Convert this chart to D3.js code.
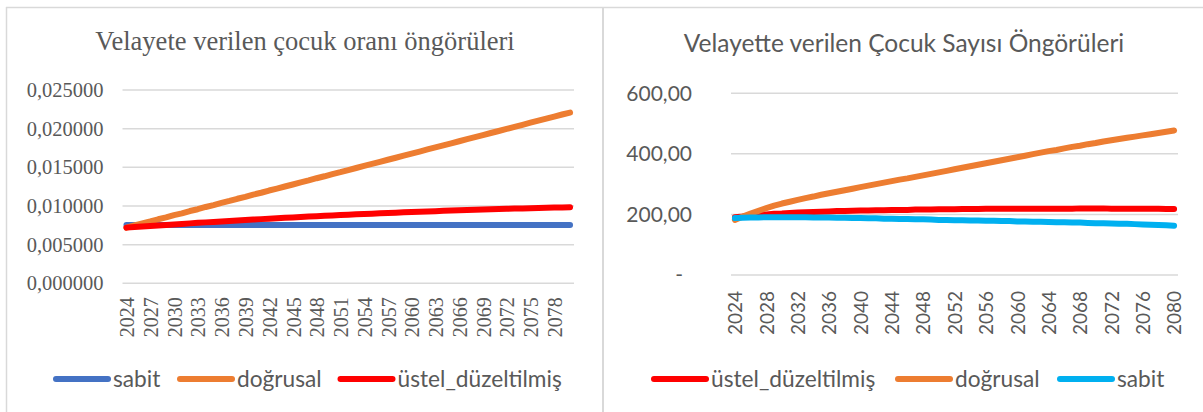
<!DOCTYPE html>
<html>
<head>
<meta charset="utf-8">
<script src="https://cdn.jsdelivr.net/npm/d3@7"></script>
<style>
  body { margin: 0; background: #fff; }
  svg { display: block; }
</style>
</head>
<body>
<svg id="chart" width="1203" height="412"></svg>
<script>
// years on both charts
var years = [2024,2025,2026,2027,2028,2029,2030,2031,2032,2033,2034,2035,2036,2037,2038,2039,2040,
  2041,2042,2043,2044,2045,2046,2047,2048,2049,2050,2051,2052,2053,2054,2055,2056,2057,2058,2059,2060,
  2061,2062,2063,2064,2065,2066,2067,2068,2069,2070,2071,2072,2073,2074,2075,2076,2077,2078,2079,2080];

// left chart: oran (ratio)
var leftTicksX = [2024,2027,2030,2033,2036,2039,2042,2045,2048,2051,2054,2057,2060,2063,2066,2069,2072,2075,2078];
var leftTicksY = [0, 0.005, 0.010, 0.015, 0.020, 0.025];
var oranSabit = [0.00755,0.00755,0.00755,0.00755,0.00755,0.00755,0.00755,0.00755,0.00755,0.00755,
  0.00755,0.00755,0.00755,0.00755,0.00755,0.00755,0.00755,0.00755,0.00755,0.00755,0.00755,0.00755,
  0.00755,0.00755,0.00755,0.00755,0.00755,0.00755,0.00755,0.00755,0.00755,0.00755,0.00755,0.00755,
  0.00755,0.00755,0.00755,0.00755,0.00755,0.00755,0.00755,0.00755,0.00755,0.00755,0.00755,0.00755,
  0.00755,0.00755,0.00755,0.00755,0.00755,0.00755,0.00755,0.00755,0.00755,0.00755,0.00755];
var oranDogrusal = [0.00720,0.00750,0.00775,0.00800,0.00828,0.00852,0.00882,0.00905,0.00935,0.00958,
  0.00987,0.01012,0.01040,0.01065,0.01093,0.01118,0.01147,0.01171,0.01200,0.01225,0.01252,0.01278,
  0.01306,0.01331,0.01359,0.01384,0.01412,0.01437,0.01465,0.01491,0.01518,0.01544,0.01571,0.01598,
  0.01624,0.01651,0.01678,0.01704,0.01731,0.01757,0.01784,0.01810,0.01837,0.01864,0.01890,0.01917,
  0.01944,0.01970,0.01997,0.02023,0.02050,0.02077,0.02103,0.02130,0.02156,0.02183,0.02208];
var oranUstel = [0.00720,0.00727,0.00734,0.00741,0.00748,0.00755,0.00762,0.00768,0.00775,0.00782,
  0.00788,0.00794,0.00800,0.00807,0.00813,0.00818,0.00824,0.00830,0.00836,0.00841,0.00847,0.00852,
  0.00857,0.00863,0.00868,0.00873,0.00878,0.00882,0.00887,0.00892,0.00896,0.00901,0.00905,0.00910,
  0.00914,0.00918,0.00922,0.00926,0.00930,0.00933,0.00937,0.00941,0.00944,0.00948,0.00951,0.00954,
  0.00957,0.00960,0.00963,0.00966,0.00969,0.00971,0.00974,0.00976,0.00979,0.00981,0.00983];

// right chart: sayi (count)
var rightTicksX = [2024,2028,2032,2036,2040,2044,2048,2052,2056,2060,2064,2068,2072,2076,2080];
var rightTicksY = [0, 200, 400, 600];
var sayiUstel = [191,193,196,198,200,202,203,205,206,207,208,209,210,211,211,212,213,213,214,214,
  215,215,215,216,216,216,217,217,217,218,218,218,219,219,219,219,219,219,219,219,219,219,219,219,
  220,220,220,220,219,219,219,219,219,219,219,218,218];
var sayiDogrusal = [182,193,203,212,221,229,236,242,248,254,259,265,270,275,280,285,290,295,300,305,
  310,315,319,324,329,334,339,344,349,354,359,364,369,374,379,384,389,394,399,404,409,413,418,423,
  427,432,436,441,445,449,453,457,461,465,469,473,477];
var sayiSabit = [188,189,190,190,191,191,191,191,191,191,190,190,190,189,189,188,188,187,187,186,
  186,185,185,184,184,183,182,182,181,181,180,180,179,179,178,178,177,177,176,176,175,174,174,173,
  173,172,171,171,170,169,169,168,167,166,165,164,163];

var svg = d3.select("#chart");
var textColor = "#595959";
var gridColor = "#d9d9d9";
var serif = "'Liberation Serif','Times New Roman',serif";
var sans = "Lato,'Open Sans',sans-serif";

// frame
svg.append("rect").attr("width",1203).attr("height",412).attr("fill","#fff");
svg.append("line").attr("x1",6).attr("x2",1203).attr("y1",7.5).attr("y2",7.5)
   .attr("stroke",gridColor).attr("stroke-width",1.5);
svg.append("line").attr("x1",6.5).attr("x2",6.5).attr("y1",7).attr("y2",412)
   .attr("stroke",gridColor).attr("stroke-width",1.5);
svg.append("line").attr("x1",603).attr("x2",603).attr("y1",7).attr("y2",412)
   .attr("stroke",gridColor).attr("stroke-width",2);

function drawChart(c){
    var g = svg.append("g");

    var x = d3.scalePoint().domain(years).range([c.left, c.right]).padding(0.5);
    var y = d3.scaleLinear().domain(c.domain).range([c.bottom, c.top]);

    // title
    g.append("text")
        .attr("x", c.titleX).attr("y", c.titleY)
        .attr("text-anchor","middle")
        .style("font-family", c.titleFont).style("font-size", c.titleSize+"px")
        .attr("fill", textColor)
        .text(c.title);

    // grid
    g.append("g").selectAll("line")
        .data(c.ticksY)
        .join("line")
        .attr("x1", c.left).attr("x2", c.right)
        .attr("y1", d => y(d)).attr("y2", d => y(d))
        .attr("stroke", gridColor).attr("stroke-width", 1.5);

    // y axis
    var yAxis = d3.axisLeft(y).tickValues(c.ticksY).tickSize(0).tickPadding(c.yPad).tickFormat(c.yFormat);
    var ya = g.append("g").attr("transform","translate("+c.left+",0)").call(yAxis);
    ya.select(".domain").remove();
    ya.selectAll("text")
        .style("font-family", c.axisFont).style("font-size", c.ySize+"px")
        .attr("fill", textColor);
    if (c.zeroShift) ya.selectAll("text").filter(d => d === 0).attr("x", -c.yPad - c.zeroShift);

    // x axis
    var xAxis = d3.axisBottom(x).tickValues(c.ticksX).tickSize(0).tickPadding(0);
    var xa = g.append("g").attr("transform","translate(0,"+c.bottom+")").call(xAxis);
    xa.select(".domain").remove();
    xa.selectAll("text")
        .attr("transform","rotate(-90)")
        .attr("x", -c.xPad).attr("y", 0).attr("dy","0.36em")
        .attr("text-anchor","end")
        .style("font-family", c.axisFont).style("font-size", c.xSize+"px")
        .attr("fill", textColor);

    // lines
    var line = d3.line().x((d,i) => x(years[i])).y(d => y(d));
    c.series.forEach(function(s){
        g.append("path")
            .datum(s.values)
            .attr("d", line)
            .attr("fill","none")
            .attr("stroke", s.color)
            .attr("stroke-width", 6)
            .attr("stroke-linecap","round")
            .attr("stroke-linejoin","round");
    });

    // legend
    c.series.forEach(function(s, i){
        var lx = c.legendX[i];
        g.append("line")
            .attr("x1", lx).attr("x2", lx + 52)
            .attr("y1", c.legendY).attr("y2", c.legendY)
            .attr("stroke", s.color).attr("stroke-width", 6)
            .attr("stroke-linecap","round");
        g.append("text")
            .attr("x", lx + 57).attr("y", c.legendY).attr("dy","0.35em")
            .style("font-family", sans).style("font-size", c.legendSize+"px")
            .attr("fill", textColor)
            .text(s.name);
    });
}

drawChart({
    title: "Velayete verilen çocuk oranı öngörüleri",
    titleX: 305, titleY: 50, titleFont: serif, titleSize: 26.5,
    left: 122.5, right: 574, top: 90, bottom: 283.3,
    domain: [0, 0.025],
    ticksX: leftTicksX, ticksY: leftTicksY,
    yFormat: d => d3.format(".6f")(d).replace(".", ","),
    axisFont: serif, ySize: 20.5, xSize: 20, yPad: 19, xPad: 14,
    legendX: [56, 180, 340.5], legendY: 379, legendSize: 22.7,
    series: [
        {name: "sabit", values: oranSabit, color: "#4472C4"},
        {name: "doğrusal", values: oranDogrusal, color: "#ED7D31"},
        {name: "üstel_düzeltilmiş", values: oranUstel, color: "#FF0000"}
    ]
});

drawChart({
    title: "Velayette verilen Çocuk Sayısı Öngörüleri",
    titleX: 904, titleY: 52, titleFont: sans, titleSize: 24.5,
    left: 731, right: 1178, top: 93.3, bottom: 275,
    domain: [0, 600],
    ticksX: rightTicksX, ticksY: rightTicksY,
    yFormat: d => d === 0 ? "-" : d3.format(".2f")(d).replace(".", ","),
    zeroShift: 9,
    axisFont: sans, ySize: 21, xSize: 19, yPad: 39, xPad: 16,
    legendX: [654, 898, 1060], legendY: 379, legendSize: 22.7,
    series: [
        {name: "üstel_düzeltilmiş", values: sayiUstel, color: "#FF0000"},
        {name: "doğrusal", values: sayiDogrusal, color: "#ED7D31"},
        {name: "sabit", values: sayiSabit, color: "#00B0F0"}
    ]
});
</script>
</body>
</html>
